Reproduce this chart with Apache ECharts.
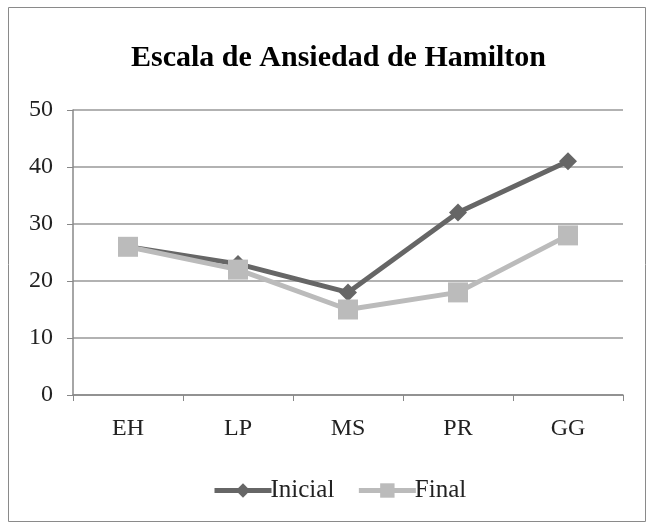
<!DOCTYPE html>
<html><head><meta charset="utf-8">
<script src="https://cdn.jsdelivr.net/npm/echarts@6/dist/echarts.min.js"></script>
<style>html,body{margin:0;padding:0;background:#fff}#c{width:654px;height:529px}</style>
</head><body><div id="c"></div>
<script>
const categories = ['EH','LP','MS','PR','GG'];
const inicial = [26, 23, 18, 32, 41];
const final = [26, 22, 15, 18, 28];
const yTicks = [0, 10, 20, 30, 40, 50];

const chart = echarts.init(document.getElementById('c'));
const serif = '"Liberation Serif", "DejaVu Serif", serif';
chart.setOption({
  animation: false,
  graphic: [{type:'rect', shape:{x:8.5,y:7.5,width:637,height:514}, style:{fill:'none', stroke:'#8a8a8a', lineWidth:1}}],
  title: {text:'Escala de Ansiedad de Hamilton', left:126, top:38,
    textStyle:{fontFamily:serif, fontSize:30, fontWeight:'bold', color:'#000'}},
  legend: {top:473, left:207, itemWidth:57, itemHeight:18, itemGap:22,
    lineStyle:{width:5},
    textStyle:{fontFamily:serif, fontSize:25, color:'#222', padding:[0,0,0,-6]},
    data:['Inicial','Final']},
  grid: {left:73, right:31, top:110, bottom:134},
  xAxis: {type:'category', data:categories, boundaryGap:true,
    axisLine:{lineStyle:{color:'#888', width:1.5}},
    axisTick:{show:true, length:6, lineStyle:{color:'#888'}},
    axisLabel:{fontFamily:serif, fontSize:24, color:'#222', margin:22}},
  yAxis: {type:'value', min:yTicks[0], max:yTicks[yTicks.length-1], interval:10,
    axisLine:{show:true, lineStyle:{color:'#888', width:1.5}},
    axisTick:{show:true, length:6, lineStyle:{color:'#888'}},
    splitLine:{lineStyle:{color:'#999', width:1.5}},
    axisLabel:{fontFamily:serif, fontSize:24, color:'#222', margin:20}},
  series: [
    {name:'Inicial', type:'line', data:inicial, symbol:'diamond', symbolSize:18,
      lineStyle:{color:'#666', width:5}, itemStyle:{color:'#666'}},
    {name:'Final', type:'line', data:final, symbol:'rect', symbolSize:20,
      lineStyle:{color:'#bbb', width:5}, itemStyle:{color:'#bbb'}}
  ]
});
</script></body></html>
